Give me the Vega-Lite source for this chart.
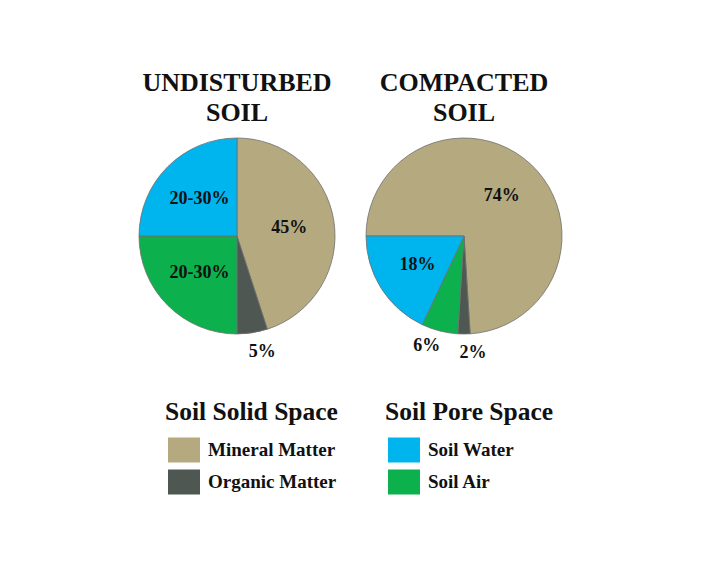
{
  "$schema": "https://vega.github.io/schema/vega-lite/v6.json",
  "background": "#ffffff",
  "padding": {"left": 137, "top": 70, "right": 0, "bottom": 0},
  "spacing": 38,
  "datasets": {
    "pies": [
      {"soil": "Undisturbed", "component": "Mineral Matter", "pct": 45, "label": "45%", "order": 1},
      {"soil": "Undisturbed", "component": "Organic Matter", "pct": 5, "label": "5%", "order": 2},
      {"soil": "Undisturbed", "component": "Soil Air", "pct": 25, "label": "20-30%", "order": 3},
      {"soil": "Undisturbed", "component": "Soil Water", "pct": 25, "label": "20-30%", "order": 4},
      {"soil": "Compacted", "component": "Mineral Matter", "pct": 74, "label": "74%", "order": 1},
      {"soil": "Compacted", "component": "Organic Matter", "pct": 2, "label": "2%", "order": 2},
      {"soil": "Compacted", "component": "Soil Air", "pct": 6, "label": "6%", "order": 3},
      {"soil": "Compacted", "component": "Soil Water", "pct": 18, "label": "18%", "order": 4}
    ],
    "legend": [
      {"group": "Soil Solid Space", "component": "Mineral Matter", "rank": 1},
      {"group": "Soil Solid Space", "component": "Organic Matter", "rank": 2},
      {"group": "Soil Pore Space", "component": "Soil Water", "rank": 1},
      {"group": "Soil Pore Space", "component": "Soil Air", "rank": 2}
    ]
  },
  "config": {
    "view": {"stroke": null},
    "font": "Liberation Serif",
    "text": {"font": "Liberation Serif", "fontWeight": "bold", "color": "#111111"},
    "title": {"font": "Liberation Serif", "fontSize": 26, "fontWeight": "bold", "color": "#111111", "lineHeight": 30, "offset": 10, "anchor": "middle"}
  },
  "vconcat": [
    {
      "bounds": "flush",
      "spacing": 31,
      "hconcat": [
        {
          "width": 196, "height": 196,
          "title": {"text": ["UNDISTURBED", "SOIL"]},
          "data": {"name": "pies"},
          "transform": [{"filter": "datum.soil === 'Undisturbed'"}],
          "encoding": {
            "theta": {"field": "pct", "type": "quantitative", "stack": true},
            "color": {"field": "component", "type": "nominal", "legend": null,
              "scale": {"domain": ["Mineral Matter", "Organic Matter", "Soil Water", "Soil Air"], "range": ["#b4a97f", "#4f5752", "#00b4ee", "#0cb04c"]}},
            "detail": {"field": "component"},
            "order": {"field": "order", "type": "quantitative"}
          },
          "layer": [
            {"mark": {"type": "arc", "stroke": "#6f6f6f", "strokeWidth": 0.8}},
            {"mark": {"type": "text", "radius": 53, "fontSize": 18, "baseline": "middle"},
             "encoding": {"color": {"value": "#111111"}, "text": {"condition": {"test": "datum.pct >= 10", "field": "label", "type": "nominal"}, "value": ""}}},
            {"mark": {"type": "text", "radius": 117, "fontSize": 18, "baseline": "middle", "dx": 7},
             "encoding": {"color": {"value": "#111111"}, "text": {"condition": {"test": "datum.pct < 10 && datum.component === 'Organic Matter'", "field": "label", "type": "nominal"}, "value": ""}}}
          ]
        },
        {
          "width": 196, "height": 196,
          "title": {"text": ["COMPACTED", "SOIL"]},
          "data": {"name": "pies"},
          "transform": [{"filter": "datum.soil === 'Compacted'"}],
          "encoding": {
            "theta": {"field": "pct", "type": "quantitative", "stack": true, "scale": {"range": [-1.5707963, 4.712389]}},
            "color": {"field": "component", "type": "nominal", "legend": null,
              "scale": {"domain": ["Mineral Matter", "Organic Matter", "Soil Water", "Soil Air"], "range": ["#b4a97f", "#4f5752", "#00b4ee", "#0cb04c"]}},
            "detail": {"field": "component"},
            "order": {"field": "order", "type": "quantitative"}
          },
          "layer": [
            {"mark": {"type": "arc", "stroke": "#6f6f6f", "strokeWidth": 0.8}},
            {"mark": {"type": "text", "radius": 55, "fontSize": 18, "baseline": "middle"},
             "encoding": {"color": {"value": "#111111"}, "text": {"condition": {"test": "datum.pct >= 10", "field": "label", "type": "nominal"}, "value": ""}}},
            {"mark": {"type": "text", "radius": 117, "fontSize": 18, "baseline": "middle", "dx": 9},
             "encoding": {"color": {"value": "#111111"}, "text": {"condition": {"test": "datum.pct < 10 && datum.component === 'Organic Matter'", "field": "label", "type": "nominal"}, "value": ""}}},
            {"mark": {"type": "text", "radius": 114, "fontSize": 18, "baseline": "middle", "dx": -9},
             "encoding": {"color": {"value": "#111111"}, "text": {"condition": {"test": "datum.pct < 10 && datum.component === 'Soil Air'", "field": "label", "type": "nominal"}, "value": ""}}}
          ]
        }
      ]
    },
    {
      "width": 278, "height": 64,
      "data": {"name": "legend"},
      "encoding": {
        "x": {"field": "group", "type": "nominal", "axis": null,
          "scale": {"type": "point", "domain": ["Soil Solid Space", "Soil Pore Space"], "padding": 0.1318}},
        "y": {"field": "rank", "type": "ordinal", "axis": null, "scale": {"type": "point", "padding": 0.5}}
      },
      "layer": [
        {"mark": {"type": "point", "shape": "M0,-0.78H2V0.78H0Z", "size": 1024, "filled": true, "opacity": 1, "strokeWidth": 0},
         "encoding": {"color": {"field": "component", "type": "nominal", "legend": null}}},
        {"mark": {"type": "text", "align": "left", "baseline": "middle", "dx": 40, "fontSize": 19},
         "encoding": {"text": {"field": "component"}, "color": {"value": "#111111"}}},
        {"transform": [{"filter": "datum.rank === 1"}],
         "mark": {"type": "text", "align": "left", "baseline": "middle", "dx": -3, "dy": -38, "fontSize": 25.5},
         "encoding": {"text": {"field": "group"}, "color": {"value": "#111111"}}}
      ]
    }
  ]
}
